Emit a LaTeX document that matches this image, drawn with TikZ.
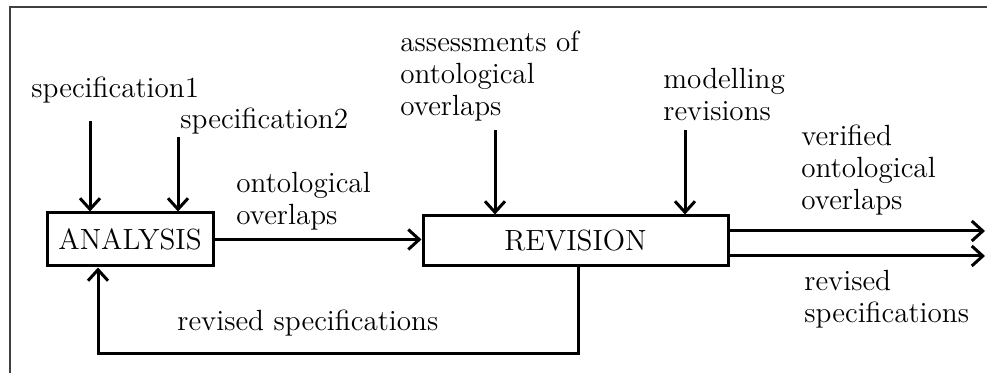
\documentclass[tikz,border=0pt]{standalone}
\usetikzlibrary{arrows.meta,positioning}
\begin{document}
\begin{tikzpicture}[x=0.5pt, y=-0.5pt, font=\fontsize{14.6}{16}\selectfont,
		box/.style={draw, line width=1.5pt, inner sep=0pt},
		lbl/.style={anchor=west, align=left, inner sep=0pt},
		flow/.style={line width=1.5pt, -{Straight Barb[length=5.5pt,width=10pt,line width=1.5pt]}}]
		\useasboundingbox (0,0) rectangle (987,373);
		% Frame
		\draw[line width=1pt, black!75] (10,373) -- (10,7) -- (987,7);
		
		% Define nodes
		\node[box, minimum width=83pt, minimum height=26.5pt] (ana) at (130,239.5) {ANALYSIS};
		\node[box, minimum width=152.5pt, minimum height=25pt] (rev) at (575.5,241) {REVISION};
		\node[lbl] (spec1) at (31,90) {specification1};
		\node[lbl] (spec2) at (180,121) {specification2};
		\node[lbl] (ovl) at (236,201) {ontological\\overlaps};
		\node[lbl] (assess) at (400,76) {assessments of\\ontological\\overlaps};
		\node[lbl] (model) at (663,95) {modelling\\revisions};
		\node[lbl] (verif) at (801,170) {verified\\ontological\\overlaps};
		\node[lbl] (revout) at (804,299) {revised\\specifications};
		\node[lbl] (revback) at (177,323) {revised specifications};
		
		% Free ends
		\coordinate (s1) at (90,121);
		\coordinate (s2) at (178,137);
		\coordinate (a1) at (495,130);
		\coordinate (m1) at (685,130);
		\coordinate (out1) at (985,231);
		\coordinate (out2) at (985,256);
		\coordinate (fb) at (578,354);
		\coordinate (fbin) at (98,354);
		
		% Draw arrows
		\draw[flow] (s1) -- (s1 |- ana.north);
		\draw[flow] (s2) -- (s2 |- ana.north);
		\draw[flow] (ana.east) -- (ana.east -| rev.west);
		\draw[flow] (a1) -- (a1 |- rev.north);
		\draw[flow] (m1) -- (m1 |- rev.north);
		\draw[flow] (out1 -| rev.east) -- (out1);
		\draw[flow] (out2 -| rev.east) -- (out2);
		\draw[flow] (fb |- rev.south) -- (fb) -- (fbin) -- (fbin |- ana.south);
	\end{tikzpicture}
\end{document}
